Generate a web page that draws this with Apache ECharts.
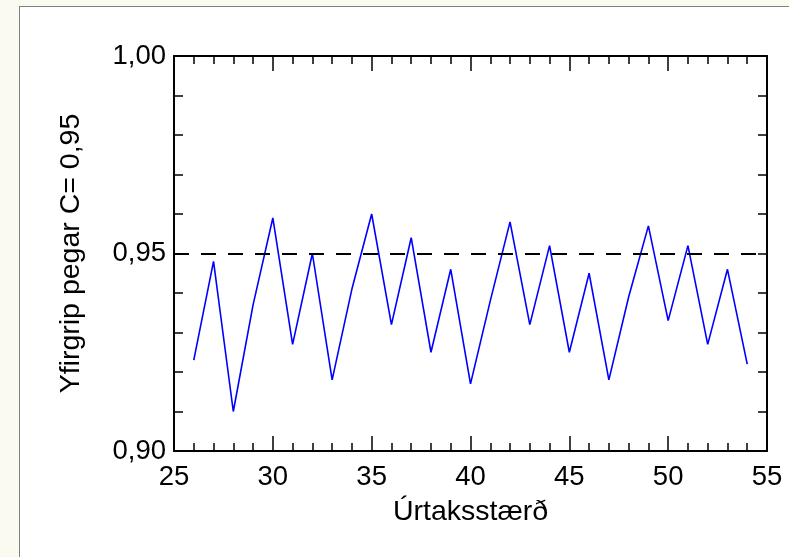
<!DOCTYPE html>
<html>
<head>
<meta charset="utf-8">
<script src="https://cdn.jsdelivr.net/npm/echarts@6/dist/echarts.min.js"></script>
<style>
  html, body { margin: 0; padding: 0; background: #fafaf0; }
  #panel { position: absolute; left: 19px; top: 6px; width: 800px; height: 600px; background: #fff; border: 1px solid #7f7f7f; }
  #chart { position: absolute; left: 0; top: 0; width: 789px; height: 557px; }
</style>
</head>
<body>
<div id="panel"></div>
<div id="chart"></div>
<script>
// sample sizes (x) and simulated coverage (y)
var sampleSizes = [26, 27, 28, 29, 30, 31, 32, 33, 34, 35, 36, 37, 38, 39, 40,
    41, 42, 43, 44, 45, 46, 47, 48, 49, 50, 51, 52, 53, 54];
var coverage = [0.923, 0.948, 0.910, 0.937, 0.959, 0.927, 0.950, 0.918, 0.941, 0.960,
    0.932, 0.954, 0.925, 0.946, 0.917, 0.938, 0.958, 0.932, 0.952, 0.925,
    0.945, 0.918, 0.939, 0.957, 0.933, 0.952, 0.927, 0.946, 0.922];
var nominal = 0.95;

var xTitle = 'Úrtaksstærð';
var yTitle = 'Yfirgrip pegar C= 0,95';

var font = 'Liberation Sans, Arial, sans-serif';

var points = sampleSizes.map(function (n, i) { return [n, coverage[i]]; });

function fmtY(v) { return v.toFixed(2).replace('.', ','); }

var xBase = {
    type: 'value', min: 25, max: 55, interval: 5,
    splitLine: { show: false },
    axisLine: { show: true, onZero: false, lineStyle: { color: '#000', width: 2 } },
    axisTick: { show: true, inside: true, length: 15, lineStyle: { color: '#000', width: 1.5 } },
    minorTick: { show: true, splitNumber: 5, length: 8, lineStyle: { color: '#000', width: 1.5 } }
};
var yBase = {
    type: 'value', min: 0.90, max: 1.00, interval: 0.05,
    splitLine: { show: false },
    axisLine: { show: true, onZero: false, lineStyle: { color: '#000', width: 2 } },
    axisTick: { show: true, inside: true, length: 9, lineStyle: { color: '#000', width: 1.5 } },
    minorTick: { show: true, splitNumber: 5, length: 9, lineStyle: { color: '#000', width: 1.5 } }
};

var ele = document.getElementById('chart');
var ins = echarts.init(ele, null, { renderer: 'canvas' });

var option = {
    animation: false,
    grid: { left: 174, top: 56, right: 22, bottom: 106 },
    xAxis: [
        Object.assign({}, xBase, {
            position: 'bottom',
            name: xTitle, nameLocation: 'middle', nameGap: 47,
            nameTextStyle: { color: '#000', fontSize: 28.5, fontFamily: font },
            axisLabel: { color: '#000', fontSize: 27.5, fontFamily: font, margin: 12 }
        }),
        Object.assign({}, xBase, { position: 'top', axisLabel: { show: false } })
    ],
    yAxis: [
        Object.assign({}, yBase, {
            position: 'left',
            name: yTitle, nameLocation: 'middle', nameGap: 88,
            nameTextStyle: { color: '#000', fontSize: 28.5, fontFamily: font },
            axisLabel: { color: '#000', fontSize: 27.5, fontFamily: font, margin: 8, formatter: fmtY }
        }),
        Object.assign({}, yBase, { position: 'right', axisLabel: { show: false } })
    ],
    series: [{
        type: 'line',
        data: points,
        symbol: 'none',
        lineStyle: { color: '#0000ff', width: 1.6 },
        markLine: {
            silent: true,
            symbol: 'none',
            label: { show: false },
            lineStyle: { color: '#000', width: 2, type: [15, 12] },
            data: [{ yAxis: nominal }]
        }
    }]
};

ins.setOption(option);
</script>
</body>
</html>
